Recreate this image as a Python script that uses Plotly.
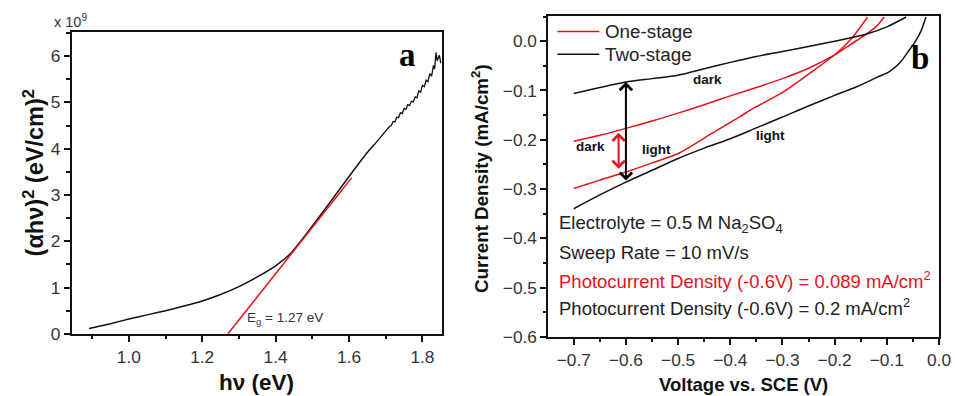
import plotly.graph_objects as go

# ---------- Panel a data ----------
hv_smooth = [0.892, 0.95, 1.00, 1.05, 1.10, 1.15, 1.20, 1.25, 1.30, 1.35, 1.40, 1.44, 1.47, 1.50,
             1.55, 1.60, 1.647, 1.67]
ahv_smooth = [0.115, 0.22, 0.32, 0.41, 0.50, 0.60, 0.71, 0.85, 1.02, 1.23, 1.47, 1.73, 2.02, 2.33,
              2.86, 3.40, 3.89, 4.10]
hv_noisy = [1.67, 1.68, 1.692, 1.70, 1.71, 1.715, 1.72, 1.725, 1.73, 1.735, 1.74, 1.745, 1.75, 1.755,
            1.76, 1.765, 1.77, 1.775, 1.78, 1.785, 1.79, 1.795, 1.80, 1.805, 1.81, 1.815, 1.82, 1.825,
            1.83, 1.833, 1.837, 1.84, 1.843, 1.846, 1.85]
ahv_noisy = [4.10, 4.19, 4.30, 4.38, 4.48, 4.50, 4.59, 4.58, 4.68, 4.67, 4.78, 4.76, 4.87, 4.85,
             4.95, 4.93, 5.03, 5.01, 5.12, 5.10, 5.25, 5.22, 5.37, 5.34, 5.48, 5.45, 5.62, 5.57,
             5.80, 5.72, 6.08, 5.90, 5.96, 6.02, 5.85]
fit_x = [1.27, 1.607]
fit_y = [0.0, 3.37]

# ---------- Panel b data ----------
v_two_dark = [-0.70, -0.65, -0.60, -0.55, -0.50, -0.45, -0.40, -0.35, -0.30, -0.255, -0.20, -0.14, -0.10, -0.063]
j_two_dark = [-0.106, -0.094, -0.083, -0.076, -0.069, -0.056, -0.043, -0.031, -0.021, -0.0116, 0.0, 0.014, 0.029, 0.049]
v_two_light = [-0.70, -0.65, -0.60, -0.55, -0.50, -0.45, -0.40, -0.35, -0.30, -0.255, -0.20, -0.159, -0.12, -0.095, -0.075, -0.057, -0.045, -0.034, -0.025]
j_two_light = [-0.340, -0.312, -0.286, -0.262, -0.238, -0.217, -0.198, -0.176, -0.154, -0.1335, -0.110, -0.093, -0.074, -0.062, -0.044, -0.018, 0.0, 0.022, 0.049]
v_one_dark = [-0.70, -0.65, -0.60, -0.55, -0.50, -0.45, -0.40, -0.35, -0.30, -0.25, -0.20, -0.17, -0.14, -0.12, -0.105]
j_one_dark = [-0.203, -0.191, -0.177, -0.162, -0.146, -0.129, -0.111, -0.094, -0.076, -0.055, -0.028, -0.007, 0.014, 0.030, 0.049]
v_one_light = [-0.70, -0.65, -0.60, -0.55, -0.50, -0.437, -0.383, -0.35, -0.30, -0.25, -0.197, -0.165, -0.137]
j_one_light = [-0.299, -0.282, -0.2656, -0.247, -0.228, -0.188, -0.154, -0.133, -0.104, -0.067, -0.025, 0.0087, 0.049]

series_names = ["One-stage", "Two-stage"]

BLACK = "#111111"
RED = "#e8121b"
FONT = "Liberation Sans, Arial, sans-serif"
SERIF = "Liberation Serif, Times New Roman, serif"

fig = go.Figure()
fig.add_trace(go.Scatter(x=hv_smooth, y=ahv_smooth, mode="lines",
                         line=dict(color=BLACK, width=1.5, shape="spline", smoothing=0.6),
                         showlegend=False, xaxis="x", yaxis="y"))
fig.add_trace(go.Scatter(x=hv_noisy, y=ahv_noisy, mode="lines", line=dict(color=BLACK, width=1.3),
                         showlegend=False, xaxis="x", yaxis="y"))
fig.add_trace(go.Scatter(x=fit_x, y=fit_y, mode="lines", line=dict(color=RED, width=1.5),
                         showlegend=False, xaxis="x", yaxis="y"))

for xs, ys, col, nm in [(v_one_dark, j_one_dark, RED, series_names[0]),
                        (v_one_light, j_one_light, RED, series_names[0]),
                        (v_two_dark, j_two_dark, BLACK, series_names[1]),
                        (v_two_light, j_two_light, BLACK, series_names[1])]:
    fig.add_trace(go.Scatter(x=xs, y=ys, mode="lines", name=nm, showlegend=False,
                             line=dict(color=col, width=1.5, shape="spline", smoothing=0.8),
                             xaxis="x2", yaxis="y2"))

# reference pixel frame (955x396); the page is rendered a bit larger and scaled down on capture
RW, RH = 955, 396
W, H = 966, 407
def px(x): return x / RW
def py(y): return 1 - y / RH

def minor(d):
    return dict(dtick=d, ticks="outside", ticklen=3.5, tickwidth=1.5, tickcolor=BLACK)

axis_common = dict(showline=True, linecolor=BLACK, linewidth=2, mirror=True, ticks="outside",
                   ticklen=6, tickwidth=1.5, tickcolor=BLACK, showgrid=False, zeroline=False,
                   tickmode="linear", tickfont=dict(family=FONT, size=17.3, color="#333333"))

fig.update_layout(
    width=W, height=H, margin=dict(l=0, r=0, t=0, b=0),
    paper_bgcolor="white", plot_bgcolor="white", showlegend=False,
    xaxis=dict(domain=[px(72), px(442)], range=[0.845, 1.852], tick0=1.0, dtick=0.2, tickformat=".1f",
               anchor="y", minor=dict(tick0=0.9, **minor(0.1)), **axis_common),
    yaxis=dict(domain=[1 - 333 / RH, 1 - 32 / RH], range=[0, 6.52], tick0=0, dtick=1,
               anchor="x", minor=dict(tick0=0, **minor(0.5)), **axis_common),
    xaxis2=dict(domain=[px(549), px(940)], range=[-0.7485, 0.0], tick0=0, dtick=0.1, tickformat=".1f",
                anchor="y2", minor=dict(tick0=0, **minor(0.05)), **axis_common),
    yaxis2=dict(domain=[1 - 336 / RH, 1 - 16 / RH], range=[-0.6, 0.051], tick0=0, dtick=0.1, tickformat=".1f",
                anchor="x2", minor=dict(tick0=0, **minor(0.05)), **axis_common),
)

ann = []
def text(x, y, s, size=18.5, color="#222222", bold=False, fam=FONT, xanchor="center", angle=0, ref="paper"):
    if bold:
        s = f"<b>{s}</b>"
    d = dict(x=x, y=y, text=s, showarrow=False, font=dict(family=fam, size=size, color=color),
             xanchor=xanchor, yanchor="middle", textangle=angle)
    if ref == "paper":
        d.update(xref="paper", yref="paper")
    else:
        d.update(xref="x2", yref="y2")
    ann.append(d)

# Panel a texts
text(px(52), py(21), "x 10<sup>9</sup>", size=14.5, color="#333333", xanchor="left")
text(px(257), py(382), "hν (eV)", size=22.5, bold=True, color="#111111")
text(px(34), py(172), "(αhν)<sup>2</sup> (eV/cm)<sup>2</sup>", size=23.5, bold=True, color="#111111", angle=-90)
text(px(408), py(55), "a", size=33, bold=True, fam=SERIF, color="#000000")
text(px(245), py(318), "E<sub>g</sub> = 1.27 eV", size=13.5, color="#333333", xanchor="left")

# Panel b texts
text(px(744), py(384), "Voltage vs. SCE (V)", size=18.5, bold=True, color="#111111")
text(px(481), py(178), "Current Density (mA/cm<sup>2</sup>)", size=18.8, bold=True, color="#111111", angle=-90)
text(px(921), py(58), "b", size=33, bold=True, fam=SERIF, color="#000000")
text(px(558), py(223), "Electrolyte = 0.5 M Na<sub>2</sub>SO<sub>4</sub>", size=18.5, xanchor="left")
text(px(558), py(252), "Sweep Rate = 10 mV/s", size=18.5, xanchor="left")
text(px(558), py(279), "Photocurrent Density (-0.6V) = 0.089 mA/cm<sup>2</sup>", size=18.5, color=RED, xanchor="left")
text(px(558), py(306), "Photocurrent Density (-0.6V) = 0.2 mA/cm<sup>2</sup>", size=18.5, xanchor="left")

text(-0.444, -0.077, "dark", size=13.5, bold=True, ref="data", color="#111111")
text(-0.667, -0.213, "dark", size=13.5, bold=True, ref="data", color="#111111")
text(-0.542, -0.220, "light", size=13.5, bold=True, ref="data", color="#111111")
text(-0.322, -0.191, "light", size=13.5, bold=True, ref="data", color="#111111")

# manual legend (line samples + labels)
shapes = []
for i, (nm, col) in enumerate(zip(series_names, [RED, BLACK])):
    yy = 31.5 + 22.5 * i
    shapes.append(dict(type="line", xref="paper", yref="paper", x0=px(558), x1=px(600), y0=py(yy), y1=py(yy),
                       line=dict(color=col, width=1.5)))
    text(px(604), py(yy), nm, size=18.8, xanchor="left")

# double arrows
ann.append(dict(x=-0.6, y=-0.083, ax=-0.6, ay=-0.286, xref="x2", yref="y2", axref="x2", ayref="y2",
                showarrow=True, arrowhead=4, startarrowhead=4, arrowside="end+start", arrowwidth=2,
                arrowsize=1.2, startarrowsize=1.2, arrowcolor="#000000", text=""))
ann.append(dict(x=-0.614, y=-0.186, ax=-0.614, ay=-0.262, xref="x2", yref="y2", axref="x2", ayref="y2",
                showarrow=True, arrowhead=4, startarrowhead=4, arrowside="end+start", arrowwidth=2,
                arrowsize=1.2, startarrowsize=1.2, arrowcolor=RED, text=""))

fig.update_layout(annotations=ann, shapes=shapes)
fig.write_html("out.html", config={"displayModeBar": False},
               post_script="document.body.style.margin='0';document.body.style.overflow='hidden';")
